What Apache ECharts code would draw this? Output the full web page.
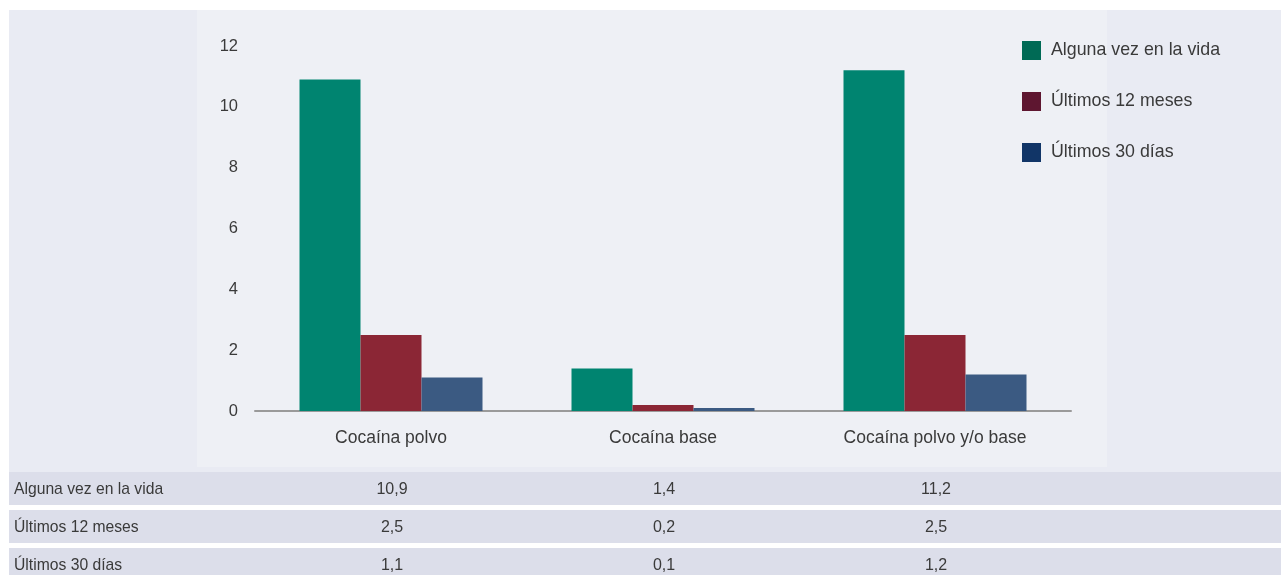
<!DOCTYPE html>
<html>
<head>
<meta charset="utf-8">
<script src="https://cdn.jsdelivr.net/npm/echarts@6/dist/echarts.min.js"></script>
<style>
html,body{margin:0;padding:0;background:#fff;}
#c{width:1281px;height:575px;}
</style>
</head>
<body>
<div id="c"></div>
<script>
const categories = ['Cocaína polvo', 'Cocaína base', 'Cocaína polvo y/o base'];
const seriesNames = ['Alguna vez en la vida', 'Últimos 12 meses', 'Últimos 30 días'];
const alguna = [10.9, 1.4, 11.2];
const ultimos12 = [2.5, 0.2, 2.5];
const ultimos30 = [1.1, 0.1, 1.2];
const yTicks = [0, 2, 4, 6, 8, 10, 12];

const barColors = ['#008470', '#8b2635', '#3b5a82'];
const legendColors = ['#006a55', '#5e1630', '#113567'];
const seriesData = [alguna, ultimos12, ultimos30];
const FONT = 'Liberation Sans';
const TXT = '#3a3a3a';

const chart = echarts.init(document.getElementById('c'), null, {renderer: 'canvas'});

const fmt = v => String(v).replace('.', ',');

const option = {
  animation: false,
  backgroundColor: '#ffffff',
  textStyle: {fontFamily: FONT},
  grid: {left: 255, right: 210, top: 46, bottom: 164, containLabel: false},
  legend: {
    orient: 'vertical',
    left: 1017, top: 36,
    itemWidth: 19, itemHeight: 19, itemGap: 32,
    icon: 'rect',
    textStyle: {fontSize: 17.8, color: TXT, fontFamily: FONT, padding: [0, 0, 0, 5]},
    data: seriesNames.map((n, i) => ({name: n, itemStyle: {color: legendColors[i]}}))
  },
  xAxis: {
    type: 'category',
    data: categories,
    axisLine: {show: true, lineStyle: {color: '#9a9a9a', width: 2}},
    axisTick: {show: false},
    axisLabel: {fontSize: 17.5, color: TXT, margin: 18, fontFamily: FONT}
  },
  yAxis: {
    type: 'value',
    min: yTicks[0], max: yTicks[yTicks.length - 1], interval: 2,
    axisLine: {show: false},
    axisTick: {show: false},
    splitLine: {show: false},
    axisLabel: {fontSize: 16.5, color: TXT, margin: 17, fontFamily: FONT}
  },
  series: seriesNames.map((n, i) => ({
    name: n,
    type: 'bar',
    data: seriesData[i],
    barWidth: 61,
    barGap: '0%',
    itemStyle: {color: barColors[i]},
    z: 3
  }))
};

chart.setOption(option);

// Background panels and data table
const W = 1281;
const rowTops = [472, 510, 548];
const rowH = [33, 33, 27];
const graphics = [
  {type: 'rect', z: -10, silent: true, shape: {x: 9, y: 10, width: W - 9, height: 462}, style: {fill: '#e9ebf3'}},
  {type: 'rect', z: -9, silent: true, shape: {x: 197, y: 10, width: 910, height: 457}, style: {fill: '#eef0f5'}}
];
seriesNames.forEach((n, r) => {
  graphics.push({type: 'rect', z: -8, silent: true,
    shape: {x: 9, y: rowTops[r], width: W - 9, height: rowH[r]}, style: {fill: '#dcdeea'}});
  const cy = rowTops[r] + 18;
  graphics.push({type: 'text', silent: true, x: 14, y: cy,
    style: {text: n, fontSize: 15.7, fontFamily: FONT, fill: TXT, verticalAlign: 'middle', align: 'left'}});
  categories.forEach((c, j) => {
    const px = chart.convertToPixel({xAxisIndex: 0}, c);
    graphics.push({type: 'text', silent: true, x: px + 1, y: cy,
      style: {text: fmt(seriesData[r][j]), fontSize: 16, fontFamily: FONT, fill: TXT, verticalAlign: 'middle', align: 'center'}});
  });
});
chart.setOption({graphic: graphics});
</script>
</body>
</html>
